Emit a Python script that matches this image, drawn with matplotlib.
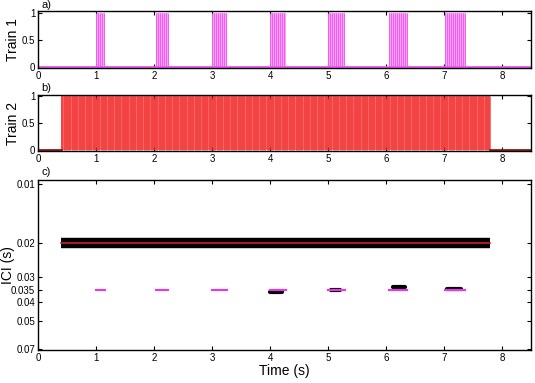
import numpy as np
import matplotlib
matplotlib.use("Agg")
import matplotlib.pyplot as plt

plt.rcParams['font.family'] = ['Liberation Sans', 'DejaVu Sans']

# ---- data ----
burst_starts = [1.00, 2.03, 3.00, 4.00, 5.00, 6.05, 7.02]
burst_ends   = [1.16, 2.24, 3.25, 4.27, 5.30, 6.37, 7.37]
train1_ici = 0.035
train2_start, train2_end = 0.40, 7.80
train2_ici = 0.020
# measured ICI clusters for bursts (start, end, ici)
ici_blob_starts = [4.00, 5.05, 6.12, 7.05]
ici_blob_ends   = [4.20, 5.20, 6.32, 7.30]
ici_blob_vals   = [0.0355, 0.0350, 0.0335, 0.0343]
xticks = [0, 1, 2, 3, 4, 5, 6, 7, 8]
yticks_c = [0.01, 0.02, 0.03, 0.035, 0.04, 0.05, 0.07]
ytick_labels_c = ['0.01', '0.02', '0.03', '0.035', '0.04', '0.05', '0.07']

train1 = np.concatenate([np.arange(s, e + 1e-9, train1_ici) for s, e in zip(burst_starts, burst_ends)])
train2 = np.arange(train2_start, train2_end + 1e-9, train2_ici)

fig = plt.figure(figsize=(5.35, 3.83), dpi=100)
W, H = 535, 383
def ax_at(l, t, r, b):
    return fig.add_axes([l / W, 1 - b / H, (r - l) / W, (b - t) / H])

axa = ax_at(38, 11, 531, 68)
axb = ax_at(38, 95, 531, 151)
axc = ax_at(38, 180, 531, 350)

def style(ax):
    ax.tick_params(direction='in', top=True, right=True, labelsize=7, length=3, width=0.8, pad=2)
    for s in ax.spines.values():
        s.set_linewidth(1.0)
    ax.set_xlim(0, 8.5)
    ax.set_xticks(xticks)

def place_ylabel(ax, text, xcenter):
    ax.set_ylabel(text, fontsize=10)
    bbox = ax.get_position()
    xr = (xcenter + 6) / W  # right edge of rotated text
    ax.yaxis.set_label_coords((xr - bbox.x0) / bbox.width, 0.5)

# panel a
for s, e in zip(burst_starts, burst_ends):
    axa.fill_between([s, e], 0, 1, color='#ffa0ff', lw=0)
axa.vlines(train1, 0, 1, color='#ee60ee', lw=0.7)
axa.axhline(0, color='#ee55ee', lw=2)
axa.set_ylim(-0.02, 1.04)
axa.set_yticks([0, 0.5, 1])
axa.set_yticklabels(['0', '0.5', '1'])
style(axa)
place_ylabel(axa, 'Train 1', 14)
fig.text(41 / W, 1 - 5 / H, 'a)', fontsize=8, va='center')

# panel b
axb.fill_between([train2_start, train2_end], 0, 1, color='#ff6262', lw=0)
axb.vlines(train2, 0, 1, color='#ee3838', lw=0.5)
axb.plot([0, train2_start], [0, 0], color='#8b1a1a', lw=2)
axb.plot([train2_end, 8.5], [0, 0], color='#8b1a1a', lw=2)
axb.set_ylim(-0.02, 1.02)
axb.set_yticks([0, 0.5, 1])
axb.set_yticklabels(['0', '0.5', '1'])
style(axb)
place_ylabel(axb, 'Train 2', 14)
fig.text(41 / W, 1 - 88 / H, 'b)', fontsize=8, va='center')

# panel c
axc.set_yscale('log')
axc.plot([train2_start, train2_end], [train2_ici, train2_ici], color='black', lw=7.5, solid_capstyle='butt')
axc.plot([train2_start, train2_end], [train2_ici, train2_ici], color='#cc2222', lw=1.2)
for s, e in zip(burst_starts, burst_ends):
    axc.plot([s, e], [train1_ici, train1_ici], color='#ee33ee', lw=1.5)
for s, e, v in zip(ici_blob_starts, ici_blob_ends, ici_blob_vals):
    axc.plot([s, e], [v, v], color='black', lw=3.0, solid_capstyle='round')
for s, e in zip(burst_starts[3:], burst_ends[3:]):
    axc.plot([s, e], [train1_ici, train1_ici], color='#ee33ee', lw=1.5)
axc.set_ylim(0.0705, 0.00955)
axc.set_yticks(yticks_c)
axc.set_yticklabels(ytick_labels_c)
axc.minorticks_off()
style(axc)
axc.yaxis.set_minor_locator(matplotlib.ticker.NullLocator())
place_ylabel(axc, 'ICI (s)', 9)
axc.set_xlabel('Time (s)', fontsize=10, labelpad=1)
fig.text(41 / W, 1 - 172 / H, 'c)', fontsize=8, va='center')

fig.savefig('out.png', dpi=100)
